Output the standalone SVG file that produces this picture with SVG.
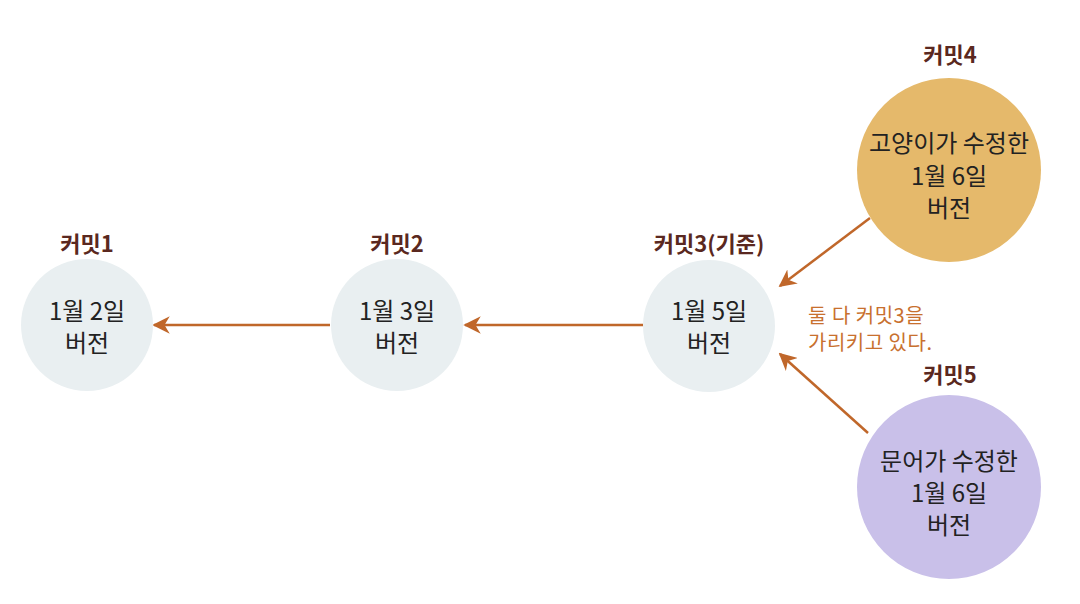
<svg xmlns="http://www.w3.org/2000/svg" width="1080" height="604" viewBox="0 0 1080 604">
<style>
.title{font-family:"Noto Sans CJK KR","Noto Sans",sans-serif;font-weight:bold;font-size:22px;fill:#5a2820;text-anchor:middle}
.body{font-family:"Noto Sans CJK KR","Noto Sans",sans-serif;font-size:24px;fill:#222;text-anchor:middle}
.note{font-family:"Noto Sans CJK KR","Noto Sans",sans-serif;font-size:20px;fill:#c8702e;letter-spacing:0.5px}
.small{fill:#e9eff1}
.link{stroke:#c0672a;stroke-width:2.5;fill:none;marker-end:url(#ah)}
</style>
<defs>
<marker id="ah" viewBox="0 0 10 10" refX="9" refY="5" markerWidth="7" markerHeight="7" orient="auto" markerUnits="strokeWidth">
<path d="M0,0 L10,5 L0,10 L3,5 Z" fill="#c0672a"/>
</marker>
</defs>
<rect width="1080" height="604" fill="#fff"/>
<g id="connectors">
<line class="link" x1="330" y1="325" x2="154" y2="325"/>
<line class="link" x1="643" y1="325" x2="465" y2="325"/>
<line class="link" x1="870" y1="218" x2="780" y2="286"/>
<line class="link" x1="868" y1="433" x2="780" y2="354"/>
</g>
<g id="commit1">
<text class="title" x="87" y="252">커밋1</text>
<circle class="small" cx="87" cy="325" r="66"/>
<text class="body" x="87" y="320">1월 2일</text>
<text class="body" x="87" y="352">버전</text>
</g>
<g id="commit2">
<text class="title" x="397" y="252">커밋2</text>
<circle class="small" cx="397" cy="325" r="66"/>
<text class="body" x="397" y="320">1월 3일</text>
<text class="body" x="397" y="352">버전</text>
</g>
<g id="commit3">
<text class="title" x="709" y="252">커밋3(기준)</text>
<circle class="small" cx="709" cy="326" r="66"/>
<text class="body" x="709" y="320">1월 5일</text>
<text class="body" x="709" y="352">버전</text>
</g>
<g id="commit4">
<text class="title" x="950" y="63">커밋4</text>
<circle cx="949" cy="170" r="92" fill="#e5b96b"/>
<text class="body" x="949" y="152">고양이가 수정한</text>
<text class="body" x="949" y="185">1월 6일</text>
<text class="body" x="949" y="217">버전</text>
</g>
<g id="commit5">
<text class="title" x="950" y="383">커밋5</text>
<circle cx="949" cy="487" r="92" fill="#c9c0e9"/>
<text class="body" x="949" y="470">문어가 수정한</text>
<text class="body" x="949" y="502">1월 6일</text>
<text class="body" x="949" y="534">버전</text>
</g>
<g id="note">
<text class="note" x="808" y="323">둘 다 커밋3을</text>
<text class="note" x="808" y="350">가리키고 있다.</text>
</g>
</svg>
